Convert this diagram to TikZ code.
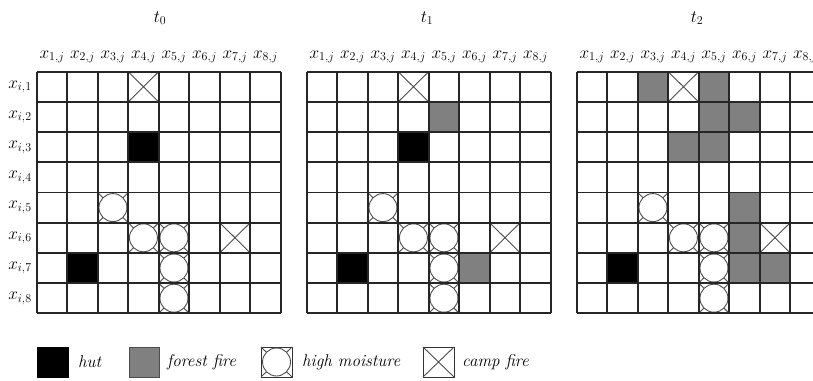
\documentclass[tikz,border=0pt]{standalone}
\usetikzlibrary{calc}
\begin{document}
\begin{tikzpicture}[x=1pt,y=-1pt,
  gridline/.style={line width=1.7pt,draw=black!85},
  thin/.style={line width=0.9pt,draw=black!70},
  hutcell/.style={fill=black},
  firecell/.style={fill=black!50},
  lbl/.style={font=\fontsize{17}{20}\selectfont,inner sep=0pt},
  leg/.style={font=\fontsize{17}{20}\selectfont\itshape,anchor=west,inner sep=0pt}]
\useasboundingbox (0,0) rectangle (813,380);
\def\cw{30.5}\def\ch{30.2}\def\ty{71.7}
% macros for cell contents; #1 = grid x0, #2 = col, #3 = row
\newcommand{\hutat}[3]{\fill[black] ({#1+(#2-1)*\cw},{\ty+(#3-1)*\ch}) rectangle ++(\cw,\ch);}
\newcommand{\fireat}[3]{\fill[black!50] ({#1+(#2-1)*\cw},{\ty+(#3-1)*\ch}) rectangle ++(\cw,\ch);}
\newcommand{\campat}[3]{\draw[thin] ({#1+(#2-1)*\cw},{\ty+(#3-1)*\ch}) -- ++(\cw,\ch) ({#1+#2*\cw},{\ty+(#3-1)*\ch}) -- ++(-\cw,\ch);}
\newcommand{\moistat}[3]{\draw[thin] ({#1+(#2-1)*\cw},{\ty+(#3-1)*\ch}) -- ++(\cw,\ch) ({#1+#2*\cw},{\ty+(#3-1)*\ch}) -- ++(-\cw,\ch);
  \draw[thin,fill=white] ({#1+(#2-0.5)*\cw},{\ty+(#3-0.5)*\ch}) circle (14);}
\newcommand{\gridat}[1]{%
  \foreach \i in {0,...,8}{\draw[gridline] ({#1+\i*\cw},\ty) -- ({#1+\i*\cw},{\ty+8*\ch});
    \draw[gridline] (#1,{\ty+\i*\ch}) -- ({#1+8*\cw},{\ty+\i*\ch});}
  \foreach \i in {1,...,8}{\node[lbl] at ({#1+(\i-0.5)*\cw},57) {$x_{\i,j}$};}}
% contents common to all three
\foreach \gx in {36.7,306.7,576.7}{
  \moistat{\gx}{3}{5}\moistat{\gx}{4}{6}\moistat{\gx}{5}{6}\moistat{\gx}{5}{7}\moistat{\gx}{5}{8}
  \campat{\gx}{4}{1}\campat{\gx}{7}{6}\hutat{\gx}{2}{7}}
\hutat{36.7}{4}{3}
\hutat{306.7}{4}{3}\fireat{306.7}{5}{2}\fireat{306.7}{6}{7}
\foreach \c/\r in {3/1,5/1,5/2,6/2,4/3,5/3,6/5,6/6,6/7,7/7}{\fireat{576.7}{\c}{\r}}
\gridat{36.7}\gridat{306.7}\gridat{576.7}
\foreach \i in {1,...,8}{\node[lbl] at (20,{\ty+(\i-0.5)*\ch}) {$x_{i,\i}$};}
\node[lbl] (t0) at (160,18) {$t_0$};
\node[lbl] (t1) at (427,18) {$t_1$};
\node[lbl] (t2) at (697,18) {$t_2$};
% legend
\def\ly{347}
\draw[line width=1pt,fill=black] (37,\ly) rectangle ++(31,30);
\node[leg] at (78,362) {hut};
\draw[line width=1pt,draw=black!70,fill=black!50] (129,\ly) rectangle ++(30,30);
\node[leg] at (167,362) {forest fire};
\draw[line width=1pt,draw=black!80] (261,\ly) rectangle ++(31,30);
\draw[thin] (261,\ly) -- ++(31,30) (292,\ly) -- ++(-31,30);
\draw[thin,fill=white] (276.5,362) circle (14);
\node[leg] at (302,362) {high moisture};
\draw[line width=1pt,draw=black!80] (423,\ly) rectangle ++(31,30);
\draw[thin] (423,\ly) -- ++(31,30) (454,\ly) -- ++(-31,30);
\node[leg] at (462,362) {camp fire};
\end{tikzpicture}
\end{document}
